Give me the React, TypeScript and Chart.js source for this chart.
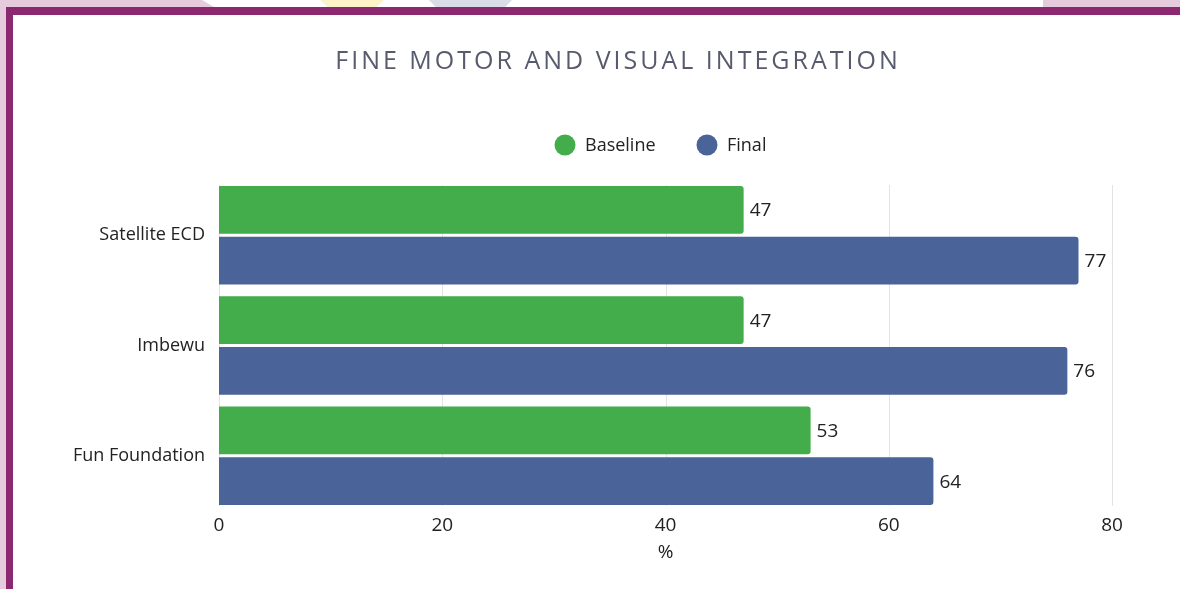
import React, { useEffect, useRef } from "react";
import { Chart, registerables } from "chart.js";

Chart.register(...registerables);

// ---- data ----
const categories = ["Satellite ECD", "Imbewu", "Fun Foundation"];
const baselineValues = [47, 47, 53];
const finalValues = [77, 76, 64];
const seriesNames = ["Baseline", "Final"];
const xTickValues = [0, 20, 40, 60, 80];
const chartTitle = "FINE MOTOR AND VISUAL INTEGRATION";
const xAxisTitle = "%";

// ---- styles ----
const GREEN = "#42ad4a";
const BLUE = "#4a6399";
const TEXT = "#222222";
const TITLE_COLOR = "#585a6d";
const GRID = "#e3e3e3";
const PURPLE = "#8b286f";
const LAVENDER = "#e6cbdd";
const FONT = "'Open Sans', 'Noto Sans', sans-serif";

const gridPlugin = {
  id: "customGrid",
  beforeDatasetsDraw(chart: any) {
    const { ctx, chartArea, scales } = chart;
    const x = scales.x;
    ctx.save();
    ctx.strokeStyle = GRID;
    ctx.lineWidth = 1;
    xTickValues.forEach((v) => {
      const px = Math.round(x.getPixelForValue(v)) + 0.5;
      ctx.beginPath();
      ctx.moveTo(px, chartArea.top + 5);
      ctx.lineTo(px, chartArea.bottom - 5);
      ctx.stroke();
    });
    ctx.restore();
  },
};

const dataLabelPlugin = {
  id: "dataLabels",
  afterDatasetsDraw(chart: any) {
    const { ctx } = chart;
    ctx.save();
    ctx.font = `19px ${FONT}`;
    ctx.fillStyle = TEXT;
    ctx.textAlign = "left";
    ctx.textBaseline = "middle";
    chart.data.datasets.forEach((ds: any, di: number) => {
      const meta = chart.getDatasetMeta(di);
      meta.data.forEach((el: any, i: number) => {
        ctx.fillText(String(ds.data[i]), el.x + 6, el.y + 1);
      });
    });
    ctx.restore();
  },
};

const titleLegendPlugin = {
  id: "titleLegend",
  afterDraw(chart: any) {
    const { ctx } = chart;
    ctx.save();
    // title
    ctx.font = `25px ${FONT}`;
    ctx.fillStyle = TITLE_COLOR;
    ctx.textAlign = "center";
    ctx.textBaseline = "alphabetic";
    try {
      (ctx as any).letterSpacing = "3px";
    } catch (e) {}
    ctx.fillText(chartTitle, 618, 69);
    try {
      (ctx as any).letterSpacing = "0px";
    } catch (e) {}
    // legend
    const items = chart.data.datasets.map((d: any) => ({ label: d.label, color: d.backgroundColor }));
    const positions = [565, 707];
    ctx.font = `18px ${FONT}`;
    ctx.textAlign = "left";
    ctx.textBaseline = "middle";
    items.forEach((it: any, i: number) => {
      const cx = positions[i];
      ctx.beginPath();
      ctx.arc(cx, 145, 10.5, 0, Math.PI * 2);
      ctx.fillStyle = it.color;
      ctx.fill();
      ctx.fillStyle = TEXT;
      ctx.fillText(it.label, cx + 20, 146);
    });
    ctx.restore();
  },
};

function ChartCanvas() {
  const ref = useRef<HTMLCanvasElement | null>(null);
  useEffect(() => {
    if (!ref.current) return;
    const chart = new Chart(ref.current, {
      type: "bar",
      data: {
        labels: categories,
        datasets: [
          {
            label: seriesNames[0],
            data: baselineValues,
            backgroundColor: GREEN,
            borderRadius: 3,
            borderSkipped: "start",
            categoryPercentage: 0.92,
            barPercentage: 0.94,
          },
          {
            label: seriesNames[1],
            data: finalValues,
            backgroundColor: BLUE,
            borderRadius: 3,
            borderSkipped: "start",
            categoryPercentage: 0.92,
            barPercentage: 0.94,
          },
        ],
      },
      options: {
        indexAxis: "y",
        responsive: true,
        maintainAspectRatio: false,
        animation: false,
        layout: { padding: { top: 180, right: 68, bottom: 20.6, left: 0 } },
        plugins: {
          legend: { display: false },
          title: { display: false },
          tooltip: { enabled: false },
        },
        scales: {
          x: {
            min: 0,
            max: 80,
            ticks: {
              stepSize: 20,
              padding: -5,
              color: TEXT,
              font: { family: FONT, size: 19 },
            },
            grid: { display: false },
            border: { display: false },
            title: {
              display: true,
              text: xAxisTitle,
              color: TEXT,
              font: { family: FONT, size: 19 },
              padding: { top: 4, bottom: 4 },
            },
            afterFit: (s: any) => {
              s.height = 57.4;
            },
          },
          y: {
            ticks: {
              padding: 6,
              color: TEXT,
              font: { family: FONT, size: 18 },
            },
            grid: { display: false },
            border: { display: false },
            afterFit: (s: any) => {
              s.width = 219;
            },
          },
        },
      } as any,
      plugins: [gridPlugin, dataLabelPlugin, titleLegendPlugin],
    });
    return () => chart.destroy();
  }, []);
  return <canvas ref={ref} />;
}

export default function App() {
  return (
    <div
      style={{
        position: "fixed",
        left: 0,
        top: 0,
        width: 1180,
        height: 589,
        background: "#ffffff",
        overflow: "hidden",
      }}
    >
      {/* page decorations */}
      <div
        style={{
          position: "absolute",
          left: 0,
          top: 0,
          width: 216,
          height: 7,
          background: LAVENDER,
          clipPath: "polygon(0 0, 202px 0, 214px 7px, 0 7px)",
        }}
      />
      <div
        style={{
          position: "absolute",
          left: 320,
          top: 0,
          width: 64,
          height: 7,
          background: "#fcf3c8",
          clipPath: "polygon(0 0, 100% 0, 88% 100%, 12% 100%)",
        }}
      />
      <div
        style={{
          position: "absolute",
          left: 429,
          top: 0,
          width: 83,
          height: 7,
          background: "#d8dde8",
          clipPath: "polygon(0 0, 100% 0, 92% 100%, 8% 100%)",
        }}
      />
      <div style={{ position: "absolute", left: 1043, top: 0, width: 137, height: 7, background: LAVENDER }} />
      <div style={{ position: "absolute", left: 0, top: 0, width: 6, height: 589, background: LAVENDER }} />
      <div style={{ position: "absolute", left: 6, top: 7, width: 1174, height: 8, background: PURPLE }} />
      <div style={{ position: "absolute", left: 6, top: 7, width: 7, height: 582, background: PURPLE }} />
      <div style={{ position: "absolute", left: 0, top: 0, width: 1180, height: 589 }}>
        <ChartCanvas />
      </div>
    </div>
  );
}
